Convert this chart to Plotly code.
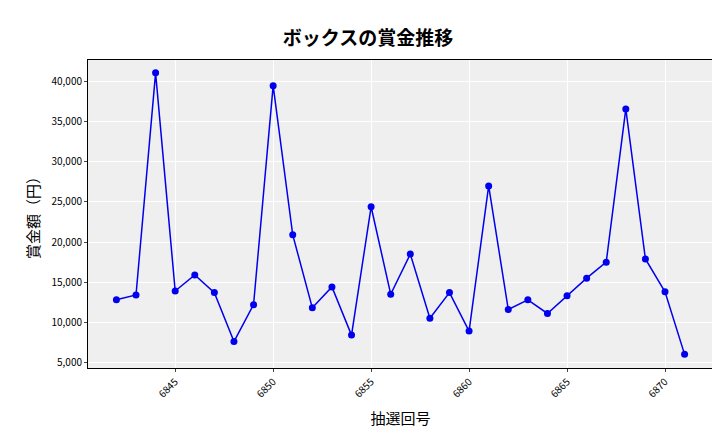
import plotly.graph_objects as go

draws = list(range(6842, 6872))
prizes = [12800, 13400, 41100, 13900, 15900, 13700, 7600, 12200, 39500, 20900,
          11800, 14400, 8400, 24400, 13500, 18500, 10500, 13700, 8900, 27000,
          11600, 12800, 11100, 13300, 15500, 17500, 36600, 17900, 13800, 6000]
xticks = [6845, 6850, 6855, 6860, 6865, 6870]
yticks = [5000, 10000, 15000, 20000, 25000, 30000, 35000, 40000]

fig = go.Figure(go.Scatter(x=draws, y=prizes, mode="lines+markers",
                           line=dict(color="#0000ee", width=1.5),
                           marker=dict(color="#0000ee", size=7)))
font = "Noto Sans CJK JP"
fig.update_layout(
    width=720, height=432, paper_bgcolor="white", plot_bgcolor="#efefef",
    margin=dict(l=80, r=15, t=52, b=72, autoexpand=False),
    title=dict(text="ボックスの賞金推移", x=0.5, xanchor="center", y=0.945,
               automargin=False,
               font=dict(family=font, size=19, color="black", weight="bold")),
    font=dict(family=font, color="black"),
    showlegend=False,
)
fig.update_xaxes(tickvals=xticks, ticktext=[str(v) for v in xticks], tickangle=-45,
                 tickfont=dict(size=10), showgrid=True, gridcolor="white",
                 range=[6840.55, 6872.45], zeroline=False, ticks="outside",
                 ticklen=3, showline=True, linecolor="black", mirror=True,
                 automargin=False,
                 title=dict(text="抽選回号", font=dict(size=15), standoff=14))
fig.update_yaxes(tickvals=yticks, ticktext=[f"{v:,}" for v in yticks],
                 tickfont=dict(size=10), showgrid=True, gridcolor="white",
                 range=[4300, 42700], zeroline=False, ticks="outside",
                 ticklen=3, showline=True, linecolor="black", mirror=True,
                 automargin=False,
                 title=dict(text="賞金額（円）", font=dict(size=15), standoff=8))
fig.write_html("out.html")
